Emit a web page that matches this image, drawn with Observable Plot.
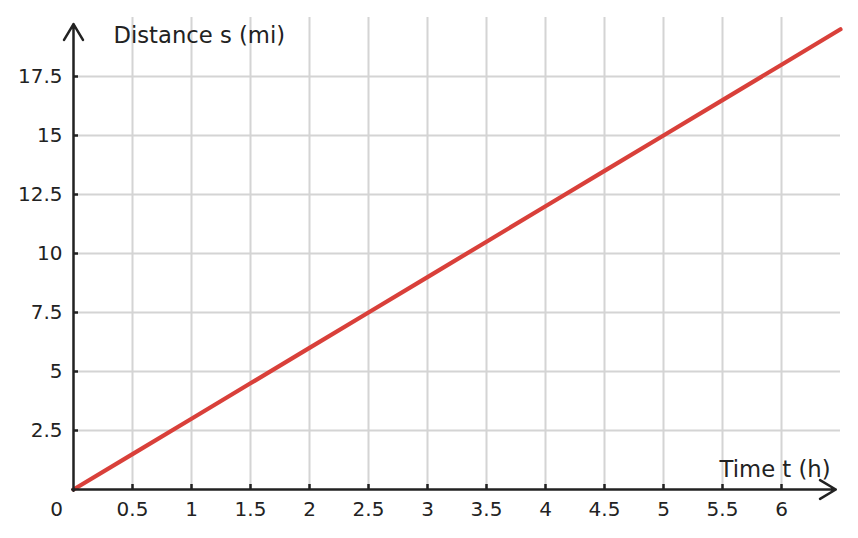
<!DOCTYPE html>
<html><head><meta charset="utf-8">
<script src="https://cdn.jsdelivr.net/npm/d3@7"></script>
<script src="https://cdn.jsdelivr.net/npm/@observablehq/plot@0.6"></script>
<style>body{margin:0;background:#fff;font-family:"DejaVu Sans",sans-serif}</style>
</head><body><div id="chart"></div>
<script>
const times = [0, 0.5, 1, 1.5, 2, 2.5, 3, 3.5, 4, 4.5, 5, 5.5, 6, 6.5];
const distances = [0, 1.5, 3, 4.5, 6, 7.5, 9, 10.5, 12, 13.5, 15, 16.5, 18, 19.5];
const xTicks = [0.5, 1, 1.5, 2, 2.5, 3, 3.5, 4, 4.5, 5, 5.5, 6];
const yTicks = [2.5, 5, 7.5, 10, 12.5, 15, 17.5];
const xLabel = "Time t (h)";
const yLabel = "Distance s (mi)";

const W = 858, H = 538;
const mL = 73, mR = 18, mT = 17, mB = 49;
const pw = W - mL - mR, ph = H - mT - mB;
const data = times.map((t, i) => ({t, s: distances[i]}));
const ink = "#222";

const chart = Plot.plot({
  width: W, height: H,
  marginLeft: mL, marginRight: mR, marginTop: mT, marginBottom: mB,
  style: {fontFamily: "DejaVu Sans, sans-serif", background: "#fff"},
  x: {domain: [0, 6.5], axis: null},
  y: {domain: [0, 20], axis: null},
  marks: [
    Plot.gridX(xTicks, {stroke: "#d4d4d4", strokeOpacity: 1, strokeWidth: 2}),
    Plot.gridY(yTicks, {stroke: "#d4d4d4", strokeOpacity: 1, strokeWidth: 2}),
    Plot.line(data, {x: "t", y: "s", stroke: "#d9403a", strokeWidth: 4.2}),
    Plot.tickX(xTicks, {x: d => d, stroke: ink, strokeWidth: 2.5, insetTop: ph - 5}),
    Plot.tickY(yTicks, {y: d => d, stroke: ink, strokeWidth: 2.5, insetRight: pw - 5}),
    Plot.arrow([{x1: 0, y1: 0, x2: 6.46, y2: 0}], {x1: "x1", y1: "y1", x2: "x2", y2: "y2", stroke: ink, strokeWidth: 2.5, headLength: 11, headAngle: 62, insetStart: -1.2}),
    Plot.arrow([{x1: 0, y1: 0, x2: 0, y2: 19.72}], {x1: "x1", y1: "y1", x2: "x2", y2: "y2", stroke: ink, strokeWidth: 2.5, headLength: 11, headAngle: 62, insetStart: -1.2}),
    Plot.text(xTicks, {x: d => d, y: 0, text: d => String(d), dy: 20, fontSize: 20, fill: ink}),
    Plot.text(yTicks, {x: 0, y: d => d, text: d => String(d), dx: -11, textAnchor: "end", fontSize: 20, fill: ink}),
    Plot.text([0], {x: 0, y: 0, text: d => String(d), dx: -17, dy: 20, fontSize: 20, fill: ink}),
    Plot.text([xLabel], {x: 6.5, y: 0, text: d => d, dx: -10, dy: -20, textAnchor: "end", fontSize: 22.7, fill: ink}),
    Plot.text([yLabel], {x: 0, y: 20, text: d => d, dx: 40, dy: 18, textAnchor: "start", fontSize: 22.7, fill: ink})
  ]
});
document.getElementById("chart").append(chart);
</script></body></html>
